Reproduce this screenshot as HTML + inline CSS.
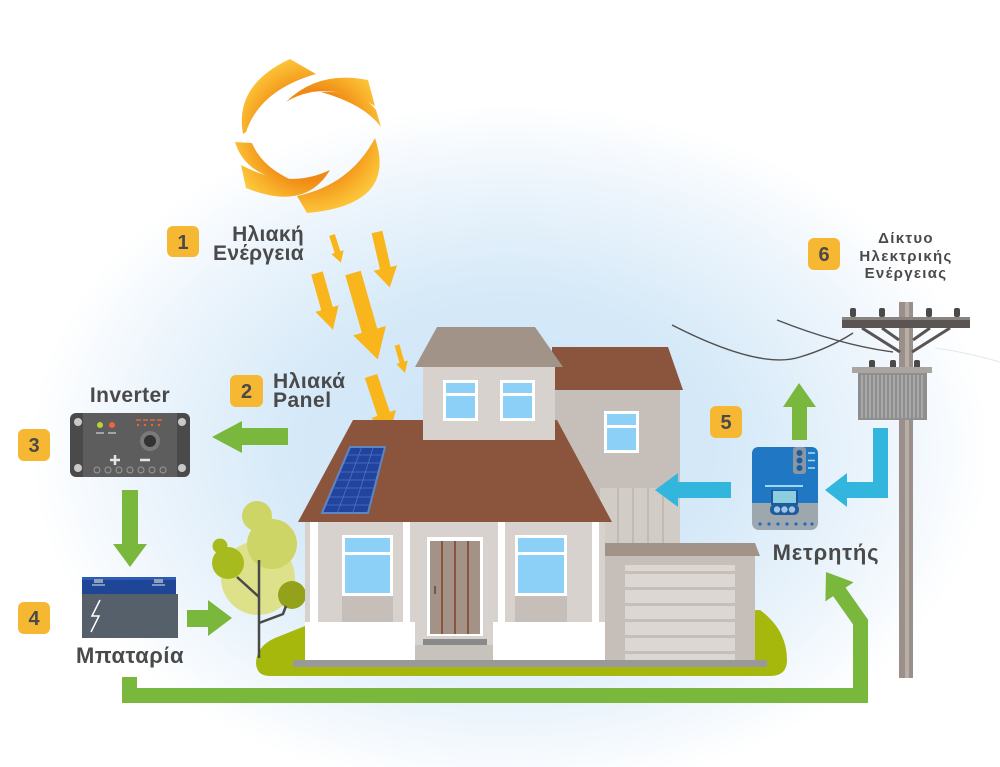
<!DOCTYPE html>
<html><head><meta charset="utf-8"><style>
html,body{margin:0;padding:0;background:#fff;}
svg{display:block;}
text{font-family:"Liberation Sans","DejaVu Sans",sans-serif;font-weight:bold;fill:#4a4a4a;}
</style></head><body>
<svg width="1000" height="767" viewBox="0 0 1000 767" xmlns="http://www.w3.org/2000/svg">
<defs>
<radialGradient id="bg" gradientUnits="userSpaceOnUse" cx="510" cy="450" r="480" gradientTransform="translate(510,450) scale(1,0.72) translate(-510,-450)">
<stop offset="0" stop-color="#cce3f7"/><stop offset="0.45" stop-color="#d5e9f8"/><stop offset="0.78" stop-color="#edf5fc"/><stop offset="1" stop-color="#ffffff"/>
</radialGradient>
<radialGradient id="sun" gradientUnits="userSpaceOnUse" cx="310" cy="135" r="82">
<stop offset="0.55" stop-color="#f08a15"/><stop offset="0.8" stop-color="#f8b02a"/><stop offset="1" stop-color="#fdca3e"/>
</radialGradient>
</defs>
<rect width="1000" height="767" fill="url(#bg)"/>

<!-- SUN -->
<g fill="url(#sun)">
<path d="M243,134 Q234,85 290,59 L316,74 Q260,90 246,132 Z"/>
<path d="M286,102 Q318,70 368,80 L375,106 Q345,88 312,92 Q297,95 286,102 Z"/>
<path d="M321,92 Q362,90 376,110 L381,127 Q364,104 321,92 Z"/>
<path d="M375,138 Q398,205 307,213 L297,196 Q350,185 375,138 Z"/>
<path d="M235,142 Q246,178 296,182 Q262,168 252,143 Z"/>
<path d="M241,165 Q288,190 330,170 Q305,212 246,188 Z"/>
</g>

<!-- sun arrows -->
<g fill="#f8b61c">
<polygon transform="translate(332,235) rotate(-17.8)" points="-3,0 3,0 3,18 6.5,18 0,29 -6.5,18 -3,18"/>
<polygon transform="translate(377,232) rotate(-13)" points="-5.5,0 5.5,0 5.5,37 12,37 0,57 -12,37 -5.5,37"/>
<polygon transform="translate(317,273) rotate(-15.7)" points="-6,0 6,0 6,37 12,37 0,59 -12,37 -6,37"/>
<polygon transform="translate(353,273) rotate(-16)" points="-8,0 8,0 8,60 17,60 0,90 -17,60 -8,60"/>
<polygon transform="translate(397,345) rotate(-16)" points="-2.5,0 2.5,0 2.5,18 6,18 0,29 -6,18 -2.5,18"/>
<polygon transform="translate(371,376) rotate(-18.4)" points="-6.5,0 6.5,0 6.5,40 13,40 0,60 -13,40 -6.5,40"/>
</g>

<!-- labels top -->
<rect x="167" y="226" width="32" height="31" rx="6" fill="#f6b733"/>
<text x="183" y="249" font-size="20" text-anchor="middle" fill="#3d3d3d">1</text>
<text x="304" y="241" font-size="21" text-anchor="end" letter-spacing="0.3">Ηλιακή</text>
<text x="304" y="260" font-size="21" text-anchor="end" letter-spacing="0.3">Ενέργεια</text>

<rect x="230" y="375" width="33" height="32" rx="6" fill="#f6b733"/>
<text x="246.5" y="398" font-size="20" text-anchor="middle" fill="#3d3d3d">2</text>
<text x="273" y="388" font-size="21" letter-spacing="0.5">Ηλιακά</text>
<text x="273" y="407" font-size="21" letter-spacing="0.5">Panel</text>

<text x="130" y="402" font-size="21" text-anchor="middle" letter-spacing="0.4">Inverter</text>
<rect x="18" y="429" width="32" height="32" rx="6" fill="#f6b733"/>
<text x="34" y="452" font-size="20" text-anchor="middle" fill="#3d3d3d">3</text>
<rect x="18" y="602" width="32" height="32" rx="6" fill="#f6b733"/>
<text x="34" y="625" font-size="20" text-anchor="middle" fill="#3d3d3d">4</text>
<text x="130" y="663" font-size="22" text-anchor="middle" letter-spacing="0.5">Μπαταρία</text>

<!-- inverter -->
<rect x="70" y="413" width="120" height="64" rx="6" fill="#4a4a4a"/>
<rect x="83" y="413" width="94" height="64" fill="#5d5d5d"/>
<g fill="#c9c9c9"><circle cx="78" cy="422" r="4"/><circle cx="78" cy="468" r="4"/><circle cx="182" cy="422" r="4"/><circle cx="182" cy="468" r="4"/></g>
<circle cx="100" cy="425" r="3" fill="#b6d433"/><circle cx="112" cy="425" r="3" fill="#f0643c"/>
<g stroke="#bdbdbd" stroke-width="1.5"><line x1="96" y1="433" x2="104" y2="433"/><line x1="108" y1="433" x2="116" y2="433"/></g>
<g stroke="#e8663a" stroke-width="1.5"><line x1="136" y1="420" x2="141" y2="420"/><line x1="143" y1="420" x2="148" y2="420"/><line x1="150" y1="420" x2="155" y2="420"/><line x1="157" y1="420" x2="162" y2="420"/></g>
<g fill="#e8663a"><circle cx="138" cy="425" r="1.2"/><circle cx="145" cy="425" r="1.2"/><circle cx="152" cy="425" r="1.2"/><circle cx="159" cy="425" r="1.2"/></g>
<circle cx="150" cy="441" r="10" fill="#7a7a7a"/><circle cx="150" cy="441" r="6" fill="#333"/>
<g stroke="#e6e6e6" stroke-width="2.5"><line x1="110" y1="460" x2="120" y2="460"/><line x1="115" y1="455" x2="115" y2="465"/><line x1="140" y1="460" x2="150" y2="460"/></g>
<g fill="none" stroke="#9a9a9a" stroke-width="1"><circle cx="97" cy="470" r="3"/><circle cx="108" cy="470" r="3"/><circle cx="119" cy="470" r="3"/><circle cx="130" cy="470" r="3"/><circle cx="141" cy="470" r="3"/><circle cx="152" cy="470" r="3"/><circle cx="163" cy="470" r="3"/></g>

<!-- battery -->
<rect x="82" y="577" width="94" height="17" fill="#1f4696"/>
<rect x="82" y="577" width="94" height="3" fill="#2c5cb8"/>
<rect x="94" y="579" width="9" height="4" fill="#8fa0b8"/><rect x="154" y="579" width="9" height="4" fill="#8fa0b8"/>
<line x1="92" y1="585" x2="105" y2="585" stroke="#dfe6f0" stroke-width="1"/><line x1="152" y1="585" x2="165" y2="585" stroke="#dfe6f0" stroke-width="1"/>
<rect x="82" y="594" width="96" height="44" fill="#55606a"/>
<polyline points="100,600 92,616 99,616 91,632" fill="none" stroke="#fff" stroke-width="1.5"/>

<!-- green arrows -->
<g fill="#7ab73d">
<polygon points="288,428 288,445 242,445 242,453 212,437 242,421 242,428"/>
<polygon points="122,490 138,490 138,544 147,544 130,567 113,544 122,544"/>
<polygon points="187,610 208,610 208,600 232,618 208,636 208,627 187,627"/>
<polygon points="792,440 807,440 807,407 816,407 799,383 783,407 792,407"/>
<polygon points="826,572 853.6,582.2 825.4,601.4"/>
</g>
<path d="M129.5,677 L129.5,695.5 L860.5,695.5 L860.5,622 L838,590" fill="none" stroke="#7ab73d" stroke-width="15" stroke-linejoin="miter"/>

<!-- lawn -->
<path d="M270,676 Q256,676 256,662 Q257,644 280,636 L305,626 L760,610 Q787,630 787,660 Q787,676 770,676 Z" fill="#a6b80c"/>

<!-- tree -->
<circle cx="258" cy="578" r="37" fill="#dde28a"/>
<circle cx="257" cy="516" r="15" fill="#cdd567"/>
<circle cx="272" cy="544" r="25" fill="#cdd567"/>
<circle cx="220" cy="546" r="7.5" fill="#a7bb1e"/>
<circle cx="228" cy="563" r="16" fill="#a7bb1e"/>
<circle cx="292" cy="595" r="14" fill="#94a11a"/>
<g stroke="#4a4a4a" stroke-width="2.5" fill="none">
<line x1="259" y1="560" x2="259" y2="658"/>
<line x1="237" y1="577" x2="259" y2="597"/>
<polyline points="259,623 283,614 286,606"/>
</g>

<!-- right tall section -->
<polygon points="552,347 668,347 683,390 552,390" fill="#8b553d"/>
<rect x="555" y="390" width="125" height="156" fill="#c6bfb9"/>
<rect x="600" y="488" width="80" height="58" fill="#d2ccc7"/>
<g stroke="#bcb5af" stroke-width="1.5"><line x1="618" y1="488" x2="618" y2="546"/><line x1="633" y1="488" x2="633" y2="546"/><line x1="648" y1="488" x2="648" y2="546"/><line x1="663" y1="488" x2="663" y2="546"/></g>
<rect x="604" y="411" width="35" height="42" fill="#fff"/>
<rect x="607" y="414" width="29" height="36" fill="#8ccff7"/>
<rect x="607" y="425" width="29" height="3" fill="#fff"/>

<!-- main roof -->
<polygon points="353,420 557,420 612,522 298,522" fill="#8b553d"/>
<!-- solar panel -->
<polygon points="350,447 385,447 368,513 322,513" fill="#23449e" stroke="#5f86c4" stroke-width="2"/>
<g stroke="#4d73c4" stroke-width="0.8">
<line x1="361.7" y1="447" x2="337.3" y2="513"/><line x1="373.3" y1="447" x2="352.7" y2="513"/>
<line x1="346.6" y1="455" x2="382.9" y2="455"/><line x1="343.2" y1="463" x2="380.9" y2="463"/>
<line x1="339.4" y1="472" x2="378.6" y2="472"/><line x1="336" y1="480" x2="376.5" y2="480"/>
<line x1="332.6" y1="488" x2="374.4" y2="488"/><line x1="328.8" y1="497" x2="372.1" y2="497"/>
<line x1="325.4" y1="505" x2="370.1" y2="505"/>
</g>

<!-- dormer -->
<rect x="423" y="366" width="132" height="74" fill="#d8d2ce"/>
<polygon points="415,367 437,327 535,327 563,367" fill="#a29389"/>
<rect x="443" y="380" width="35" height="41" fill="#fff"/>
<rect x="446" y="383" width="29" height="35" fill="#8ccff7"/>
<rect x="446" y="393" width="29" height="3" fill="#fff"/>
<rect x="500" y="380" width="35" height="41" fill="#fff"/>
<rect x="503" y="383" width="29" height="35" fill="#8ccff7"/>
<rect x="503" y="393" width="29" height="3" fill="#fff"/>

<!-- garage -->
<polygon points="605,543 755,543 760,556 605,556" fill="#a29389"/>
<rect x="605" y="556" width="150" height="106" fill="#c6bfb9"/>
<rect x="625" y="565" width="110" height="96" fill="#dcd7d3"/>
<g fill="#c6bfb9"><rect x="625" y="571" width="110" height="3"/><rect x="625" y="587" width="110" height="3"/><rect x="625" y="603" width="110" height="3"/><rect x="625" y="619" width="110" height="3"/><rect x="625" y="635" width="110" height="3"/><rect x="625" y="651" width="110" height="3"/></g>

<!-- main body -->
<rect x="305" y="522" width="300" height="138" fill="#d8d2ce"/>
<g fill="#fff">
<rect x="310" y="522" width="8" height="104"/><rect x="403" y="522" width="7" height="104"/>
<rect x="498" y="522" width="7" height="104"/><rect x="592" y="522" width="7" height="104"/>
<rect x="305" y="622" width="110" height="38"/><rect x="493" y="622" width="112" height="38"/>
</g>
<rect x="342" y="595" width="51" height="27" fill="#c6bfb9"/>
<rect x="515" y="595" width="52" height="27" fill="#c6bfb9"/>
<rect x="342" y="535" width="51" height="61" fill="#fff"/>
<rect x="345" y="538" width="45" height="55" fill="#8ccff7"/>
<rect x="345" y="552" width="45" height="3" fill="#fff"/>
<rect x="515" y="535" width="52" height="61" fill="#fff"/>
<rect x="518" y="538" width="46" height="55" fill="#8ccff7"/>
<rect x="518" y="552" width="46" height="3" fill="#fff"/>
<!-- door -->
<rect x="427" y="537" width="56" height="99" fill="#fff"/>
<rect x="430" y="541" width="50" height="93" fill="#a39288"/>
<g stroke="#8b553d" stroke-width="2"><line x1="442" y1="541" x2="442" y2="634"/><line x1="455" y1="541" x2="455" y2="634"/><line x1="468" y1="541" x2="468" y2="634"/></g>
<rect x="434" y="586" width="2" height="8" fill="#6b5a50"/>
<rect x="423" y="639" width="64" height="6" fill="#8a8a8a"/>
<rect x="415" y="645" width="78" height="15" fill="#c8c2bd"/>
<rect x="293" y="660" width="474" height="7" fill="#999"/>

<!-- wires -->
<g fill="none" stroke="#505050" stroke-width="1.4">
<path d="M672,325 Q760,370 800,357 Q830,348 853,333"/>
<path d="M777,320 Q840,345 893,352"/>
</g>
<path d="M935,348 Q965,352 1000,362" fill="none" stroke="#e4e8ec" stroke-width="1"/>

<!-- pole -->
<rect x="899" y="302" width="14" height="376" fill="#9b9089"/>
<rect x="905" y="302" width="4" height="376" fill="#b7aea8"/>
<g fill="#4a4a4a">
<rect x="850" y="308" width="6" height="9" rx="2"/><rect x="879" y="308" width="6" height="9" rx="2"/>
<rect x="926" y="308" width="6" height="9" rx="2"/><rect x="954" y="308" width="6" height="9" rx="2"/>
</g>
<rect x="842" y="317" width="128" height="11" fill="#5a5552"/>
<rect x="842" y="317" width="128" height="3" fill="#8a8480"/>
<g stroke="#5a5552" stroke-width="3">
<line x1="862" y1="328" x2="900" y2="352"/><line x1="950" y1="328" x2="912" y2="352"/>
<line x1="882" y1="328" x2="899" y2="340"/><line x1="930" y1="328" x2="913" y2="340"/>
</g>
<g fill="#4a4a4a"><rect x="869" y="360" width="6" height="9" rx="2"/><rect x="890" y="360" width="6" height="9" rx="2"/><rect x="914" y="360" width="6" height="9" rx="2"/></g>
<rect x="852" y="367" width="80" height="6" fill="#aaa5a1"/>
<rect x="858" y="373" width="69" height="47" fill="#8e8e8e"/>
<g stroke="#b0b0b0" stroke-width="1.5">
<line x1="862" y1="375" x2="862" y2="418"/><line x1="866" y1="375" x2="866" y2="418"/><line x1="870" y1="375" x2="870" y2="418"/><line x1="874" y1="375" x2="874" y2="418"/><line x1="878" y1="375" x2="878" y2="418"/><line x1="882" y1="375" x2="882" y2="418"/><line x1="886" y1="375" x2="886" y2="418"/><line x1="890" y1="375" x2="890" y2="418"/><line x1="894" y1="375" x2="894" y2="418"/><line x1="898" y1="375" x2="898" y2="418"/><line x1="902" y1="375" x2="902" y2="418"/><line x1="906" y1="375" x2="906" y2="418"/><line x1="910" y1="375" x2="910" y2="418"/><line x1="914" y1="375" x2="914" y2="418"/><line x1="918" y1="375" x2="918" y2="418"/><line x1="922" y1="375" x2="922" y2="418"/>
</g>

<!-- blue arrows -->
<g fill="#33b6dd">
<polygon points="731,482 731,498 678,498 678,507 655,490 678,473 678,482"/>
<polygon points="873,428 888,428 888,498 847,498 847,507 825,490 847,473 847,482 873,482"/>
</g>

<!-- meter -->
<rect x="752" y="447" width="66" height="83" rx="7" fill="#9ea6ae"/>
<path d="M759,447 H811 Q818,447 818,454 V503 H752 V454 Q752,447 759,447 Z" fill="#2077c4"/>
<rect x="793" y="447" width="13" height="27" rx="3" fill="#8b96a3"/>
<g fill="#1e5d9c"><circle cx="799.5" cy="453" r="3"/><circle cx="799.5" cy="460.5" r="3"/><circle cx="799.5" cy="468" r="3"/></g>
<g stroke="#a9dff5" stroke-width="1.5"><line x1="808" y1="453" x2="815" y2="453"/><line x1="808" y1="460.5" x2="815" y2="460.5"/><line x1="808" y1="468" x2="815" y2="468"/></g>
<line x1="765" y1="486" x2="803" y2="486" stroke="#9fd9f3" stroke-width="2"/>
<rect x="771" y="490" width="27" height="15" fill="#1a5a9c"/>
<rect x="773" y="491" width="23" height="12" fill="#8dcde0"/>
<rect x="770" y="504" width="29" height="11" rx="5" fill="#1e5d9c"/>
<g fill="#9fc4e6"><circle cx="777" cy="509.5" r="3.2"/><circle cx="784.5" cy="509.5" r="3.2"/><circle cx="792" cy="509.5" r="3.2"/></g>
<g fill="#1e6fbf"><circle cx="760" cy="524" r="1.6"/><circle cx="769" cy="524" r="1.6"/><circle cx="778" cy="524" r="1.6"/><circle cx="787" cy="524" r="1.6"/><circle cx="796" cy="524" r="1.6"/><circle cx="805" cy="524" r="1.6"/><circle cx="812" cy="524" r="1.6"/></g>

<text x="826" y="560" font-size="22" text-anchor="middle" letter-spacing="0.8">Μετρητής</text>
<rect x="710" y="406" width="32" height="32" rx="6" fill="#f6b733"/>
<text x="726" y="429" font-size="20" text-anchor="middle" fill="#3d3d3d">5</text>
<rect x="808" y="238" width="32" height="32" rx="6" fill="#f6b733"/>
<text x="824" y="261" font-size="20" text-anchor="middle" fill="#3d3d3d">6</text>
<text x="906" y="243" font-size="15" text-anchor="middle" letter-spacing="1.3">Δίκτυο</text>
<text x="906" y="261" font-size="15" text-anchor="middle" letter-spacing="1.3">Ηλεκτρικής</text>
<text x="906" y="278" font-size="15" text-anchor="middle" letter-spacing="1.3">Ενέργειας</text>
</svg>
</body></html>
